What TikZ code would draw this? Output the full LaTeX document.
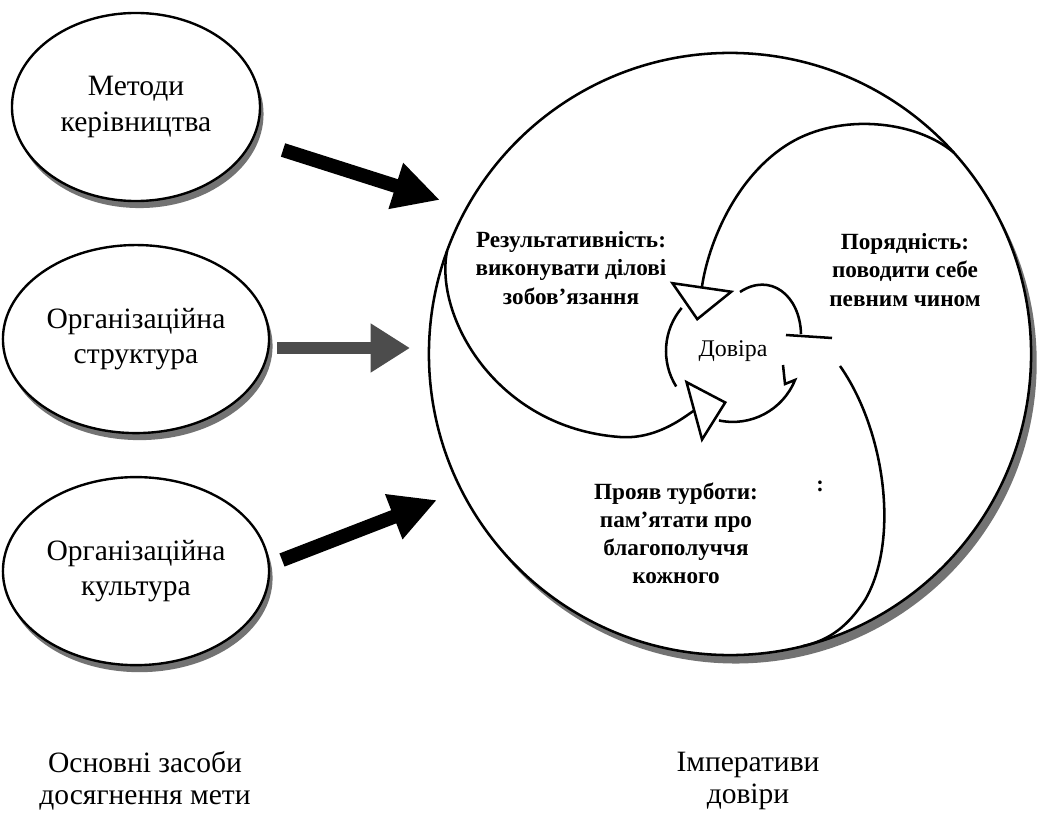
\documentclass[tikz,border=0pt]{standalone}
\usepackage{fontspec}
\setmainfont{Liberation Serif}
\usetikzlibrary{arrows.meta,shapes.geometric,shadows}
\begin{document}
\begin{tikzpicture}[x=0.025cm,y=0.025cm,node distance=5.8cm]
\tikzstyle{el}=[ellipse,draw,line width=1.7pt,fill=white,minimum width=6.2cm,minimum height=4.7cm,align=center,font=\fontsize{21}{25}\selectfont,drop shadow={shadow xshift=2.5pt,shadow yshift=-5pt,fill=black!55,opacity=1}]
\tikzstyle{fat}=[line width=10pt,-{Triangle[length=33pt,width=32pt]}]
\tikzstyle{hollow}=[line width=1.8pt,-{Triangle[length=25pt,width=46pt,fill=white]}]
\tikzstyle{ln}=[line width=1.8pt]
\tikzstyle{lbl}=[align=center,font=\bfseries\fontsize{16.5}{20}\selectfont]
\tikzstyle{bottomtxt}=[align=center,font=\fontsize{21}{23}\selectfont]
\useasboundingbox (0,0) rectangle (1037,-814);
\node[el] (m1) at (136,-107) {Методи\\керівництва};
\node[el,below of=m1] (m2) {Організаційна\\структура};
\node[el,below of=m2] (m3) {Організаційна\\культура};
\node[circle,draw,line width=1.8pt,fill=white,minimum size=15.05cm,inner sep=0pt,outer sep=0pt,drop shadow={shadow xshift=4pt,shadow yshift=-6pt,fill=black!55,opacity=1}] (imp) at (730,-354) {};
\coordinate (a1s) at (283,-150);
\coordinate (a1e) at (440,-200);
\coordinate (a2s) at (277,-348);
\coordinate (a2e) at (410,-348);
\coordinate (a3s) at (282,-560);
\coordinate (a3e) at (437,-500);
\draw[fat] (a1s) -- (a1e);
\draw[fat,line width=8.5pt,black!70,-{Triangle[length=28pt,width=33pt]}] (a2s) -- (a2e);
\draw[fat] (a3s) -- (a3e);
\node[font=\fontsize{17}{20}\selectfont] (dov) at (733,-351) {Довіра};
\draw[ln] (740,-292) .. controls (770,-272) and (800,-295) .. (801,-334);
\draw[ln] (dov.center) ++(140:67) arc[start angle=140,end angle=212,radius=67];
\draw[ln] (783,-365) -- (785,-384) -- (795,-380) arc[start angle=-22,end angle=-102,radius=67];
\draw[ln] (786,-335) -- (832,-338);
\coordinate (ta) at (697,-321);
\coordinate (tb) at (727,-402);
\coordinate (c3) at (840,-366);
\draw[hollow] (imp.42) .. controls (915,-120) and (840,-113) .. (790,-143) .. controls (735,-176) and (708,-245) .. (ta);
\draw[hollow] (imp.160) .. controls (434,-315) and (495,-428) .. (620,-437) .. controls (660,-440) and (690,-412) .. (tb);
\draw[ln] (c3) .. controls (885,-430) and (900,-540) .. (865,-600) .. controls (848,-626) and (830,-640) .. (imp.-76);
\node[lbl] (res) at (571,-268) {Результативність:\\виконувати ділові\\зобов’язання};
\node[lbl] (por) at (905,-270) {Порядність:\\поводити себе\\певним чином};
\node[lbl] (tur) at (676,-533) {Прояв турботи:\\пам’ятати про\\благополуччя\\кожного};
\node[font=\bfseries\fontsize{16}{18}\selectfont] (dots) at (820,-486) {:};
\node[bottomtxt] (goal) at (145,-781) {Основні засоби\\досягнення мети};
\node[bottomtxt] (impt) at (748,-781) {Імперативи\\довіри};
\end{tikzpicture}
\end{document}
